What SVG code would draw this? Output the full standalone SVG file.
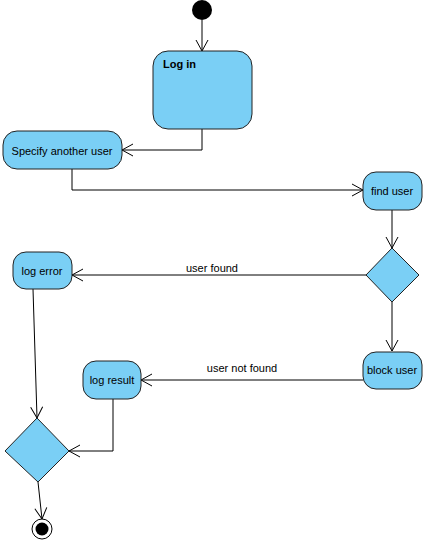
<svg xmlns="http://www.w3.org/2000/svg" width="426" height="544" viewBox="0 0 426 544">
<defs>
<marker id="arr" markerWidth="14" markerHeight="14" viewBox="-12 -7 14 14" refX="0" refY="0" orient="auto" markerUnits="userSpaceOnUse">
<path d="M-11,-6 L0,0 L-11,6" fill="none" stroke="#000" stroke-width="1"/>
</marker>
<style>
.act{fill:#7ACFF5;stroke:#222;stroke-width:1}
.t{font-family:"Liberation Sans",Arial,sans-serif;font-size:11px;fill:#000}
.c{fill:none;stroke:#000;stroke-width:1;marker-end:url(#arr)}
.lbl{font-family:"Liberation Sans",Arial,sans-serif;font-size:11px;fill:#000}
</style>
</defs>
<rect width="426" height="544" fill="#fff"/>
<g id="connectors">
<path class="c" d="M202,20 L202,51"/>
<path class="c" d="M202,129 L202,150 L122,150"/>
<path class="c" d="M72,169 L72,190 L363,190"/>
<path class="c" d="M392,210 L392,248"/>
<path class="c" d="M366,275 L72,275"/>
<path class="c" d="M392,302 L392,351"/>
<path class="c" d="M363,380 L141,380"/>
<path class="c" d="M33,289 L37,418"/>
<path class="c" d="M113,399 L113,451 L69,451"/>
<path class="c" d="M38,482 L42,519"/>
<text class="lbl" x="212" y="272" text-anchor="middle">user found</text>
<text class="lbl" x="242" y="372" text-anchor="middle">user not found</text>
</g>
<g id="start"><circle cx="202" cy="10" r="10" fill="#000"/></g>
<g id="login"><rect class="act" x="153" y="51" width="99" height="78" rx="15"/><text class="t" x="163" y="68" font-weight="bold">Log in</text></g>
<g id="specify"><rect class="act" x="3" y="131" width="119" height="38" rx="14"/><text class="t" x="62" y="155" text-anchor="middle">Specify another user</text></g>
<g id="finduser"><rect class="act" x="363" y="172" width="59" height="38" rx="13"/><text class="t" x="392" y="195" text-anchor="middle">find user</text></g>
<g id="decision1"><polygon class="act" points="392,248 419,275 392,302 366,275"/></g>
<g id="logerror"><rect class="act" x="13" y="252" width="59" height="37" rx="13"/><text class="t" x="42" y="275" text-anchor="middle">log error</text></g>
<g id="blockuser"><rect class="act" x="363" y="352" width="59" height="37" rx="13"/><text class="t" x="392" y="374" text-anchor="middle">block user</text></g>
<g id="logresult"><rect class="act" x="83" y="361" width="58" height="38" rx="13"/><text class="t" x="112" y="384" text-anchor="middle">log result</text></g>
<g id="merge"><polygon class="act" points="37,418 69,451 38,482 5,451"/></g>
<g id="end"><circle cx="42" cy="529" r="10" fill="#fff" stroke="#000" stroke-width="1"/><circle cx="42" cy="529" r="6.5" fill="#000"/></g>
</svg>
